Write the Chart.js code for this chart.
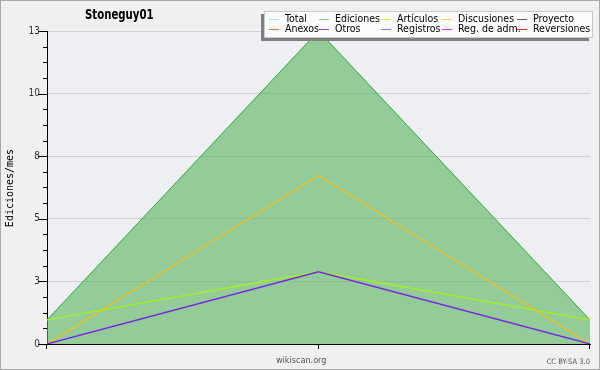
<!DOCTYPE html>
<html lang="es">
<head>
  <meta charset="UTF-8">
  <title>Stoneguy01</title>
  <script src="https://cdn.jsdelivr.net/npm/chart.js"></script>
  <style>
    html, body { margin: 0; padding: 0; background: #f0f0f0; }
  </style>
</head>
<body>
  <canvas id="editsChart" width="600" height="370"></canvas>

  <script>
    // data
    const months = ['', '', ''];
    const total = [1, 13, 1];
    const ediciones = [1, 13, 1];
    const articulos = [1, 3, 1];
    const discusiones = [0, 7, 0];
    const otros = [0, 3, 0];

    const yTicks = [0, 2.6, 5.2, 7.8, 10.4, 13];
    const yTickLabels = ['0', '3', '5', '8', '10', '13'];

    const legendNames = ['Total', 'Ediciones', 'Artículos', 'Discusiones', 'Proyecto',
                         'Anexos', 'Otros', 'Registros', 'Reg. de adm.', 'Reversiones'];
    const legendColors = ['#a8e4e4', '#84c884', '#c8f064', '#f8d060', '#606060',
                          '#f08040', '#9040e0', '#8080f0', '#d040e0', '#e03030'];

    const condensed = '"DejaVu Sans Condensed", "DejaVu Sans", sans-serif';

    const decorPlugin = {
      id: 'decor',
      beforeDraw(chart) {
        const ctx = chart.ctx;
        const a = chart.chartArea;
        ctx.save();
        ctx.fillStyle = '#f0f0f0';
        ctx.fillRect(0, 0, chart.width, chart.height);
        ctx.fillStyle = '#eeeff2';
        ctx.fillRect(a.left, a.top, a.right - a.left, a.bottom - a.top);
        ctx.restore();
      },
      afterDraw(chart) {
        const ctx = chart.ctx;
        const y = chart.scales.y;
        const x = chart.scales.x;
        ctx.save();

        // outer frame
        ctx.strokeStyle = '#a8a8a8';
        ctx.lineWidth = 1;
        ctx.strokeRect(0.5, 0.5, chart.width - 1, chart.height - 1);

        // y ticks, major and minor
        ctx.strokeStyle = '#000';
        ctx.beginPath();
        for (let v = 0; v <= 13.001; v += 0.65) {
          const py = Math.round(y.getPixelForValue(v)) + 0.5;
          const major = yTicks.some(t => Math.abs(t - v) < 0.01);
          ctx.moveTo(major ? 38 : 43, py);
          ctx.lineTo(47, py);
        }
        // x ticks
        months.forEach((m, i) => {
          const px = Math.round(x.getPixelForValue(i)) - 0.5;
          ctx.moveTo(px, chart.chartArea.bottom);
          ctx.lineTo(px, chart.chartArea.bottom + 5);
        });
        ctx.stroke();

        // title (narrowed a bit)
        ctx.save();
        ctx.translate(85, 15);
        ctx.scale(0.78, 1);
        ctx.fillStyle = '#000';
        ctx.font = 'bold 14.5px ' + condensed;
        ctx.textBaseline = 'middle';
        ctx.textAlign = 'left';
        ctx.fillText('Stoneguy01', 0, 0);
        ctx.restore();

        ctx.textBaseline = 'middle';

        // y axis title
        ctx.save();
        ctx.translate(10, 188);
        ctx.rotate(-Math.PI / 2);
        ctx.textAlign = 'center';
        ctx.font = '10px "DejaVu Sans Mono", monospace';
        ctx.fillStyle = '#000';
        ctx.fillText('Ediciones/mes', 0, 0);
        ctx.restore();

        // legend box with shadow
        ctx.fillStyle = '#808080';
        ctx.fillRect(261, 14, 328, 27);
        ctx.fillStyle = '#fbfbfb';
        ctx.fillRect(264, 11, 329, 27);
        ctx.strokeStyle = '#c8c8c8';
        ctx.strokeRect(264.5, 11.5, 328, 26);

        const colX = [285, 335, 397, 458, 533];
        const rowY = [19, 29];
        ctx.font = '10.5px ' + condensed;
        ctx.textAlign = 'left';
        legendNames.forEach((name, i) => {
          const cx = colX[i % 5];
          const cy = rowY[Math.floor(i / 5)];
          ctx.strokeStyle = legendColors[i];
          ctx.beginPath();
          ctx.moveTo(cx - 16, cy + 0.5);
          ctx.lineTo(cx - 6, cy + 0.5);
          ctx.stroke();
          ctx.fillStyle = '#000';
          ctx.fillText(name, cx, cy);
        });

        // footer texts
        ctx.fillStyle = '#555';
        ctx.font = '9px ' + condensed;
        ctx.fillText('wikiscan.org', 276, 361);
        ctx.font = '7.5px ' + condensed;
        ctx.textAlign = 'right';
        ctx.fillText('CC BY-SA 3.0', 590, 362);

        ctx.restore();
      }
    };

    const ctx = document.getElementById('editsChart').getContext('2d');
    new Chart(ctx, {
      type: 'line',
      data: {
        labels: months,
        datasets: [
          {
            label: 'Total',
            data: total,
            borderColor: legendColors[0],
            borderWidth: 1,
            fill: false,
            order: 5
          },
          {
            label: 'Ediciones',
            data: ediciones,
            borderColor: '#3cac3c',
            backgroundColor: 'rgba(86, 180, 93, 0.6)',
            borderWidth: 1,
            fill: 'origin',
            order: 4
          },
          {
            label: 'Artículos',
            data: articulos,
            borderColor: '#a4f020',
            borderWidth: 1.3,
            fill: false,
            order: 3
          },
          {
            label: 'Discusiones',
            data: discusiones,
            borderColor: '#f0c020',
            borderWidth: 1.2,
            fill: false,
            order: 2
          },
          {
            label: 'Otros',
            data: otros,
            borderColor: '#7a24e8',
            borderWidth: 1.3,
            fill: false,
            order: 1
          }
        ]
      },
      options: {
        responsive: false,
        animation: false,
        layout: { padding: { left: 0, top: 31, right: 10, bottom: 0 } },
        elements: { point: { radius: 0 }, line: { tension: 0 } },
        plugins: {
          legend: { display: false },
          title: { display: false },
          tooltip: { enabled: false }
        },
        scales: {
          x: {
            type: 'category',
            offset: false,
            grid: { display: false, drawTicks: false },
            border: { color: '#000', width: 1 },
            ticks: { display: false },
            afterFit(scale) { scale.height = 26; }
          },
          y: {
            min: 0,
            max: 13,
            afterBuildTicks(scale) {
              scale.ticks = yTicks.map(v => ({ value: v }));
            },
            ticks: {
              padding: 7,
              color: '#333',
              font: { family: condensed, size: 10 },
              callback: (v, i) => yTickLabels[i]
            },
            grid: {
              color: '#d2d2d2',
              drawTicks: false
            },
            border: { color: '#000', width: 1 },
            afterFit(scale) { scale.width = 47; }
          }
        }
      },
      plugins: [decorPlugin]
    });
  </script>
</body>
</html>
